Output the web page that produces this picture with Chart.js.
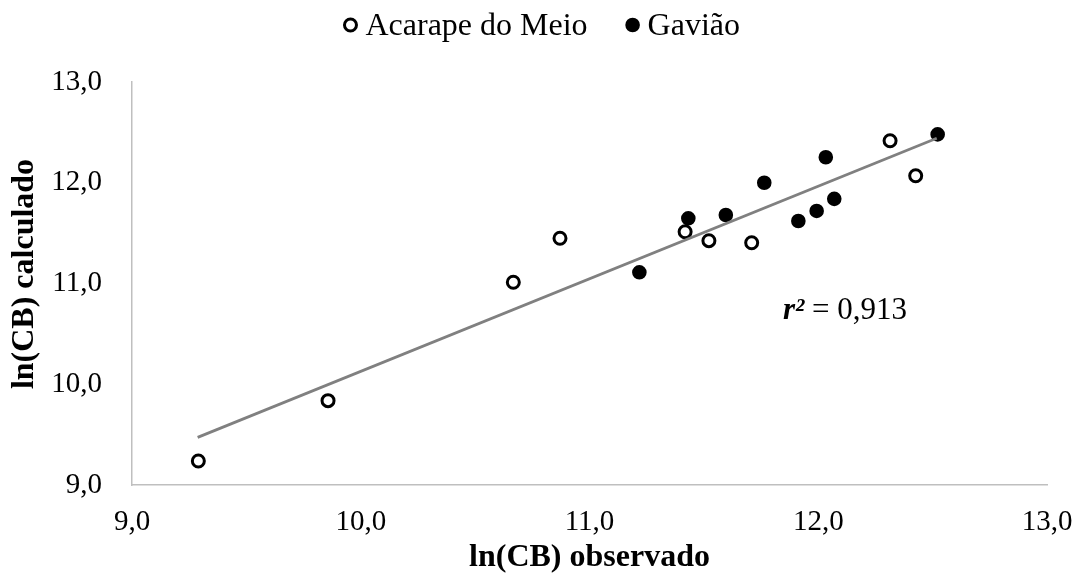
<!DOCTYPE html>
<html>
<head>
<meta charset="utf-8">
<script src="https://cdn.jsdelivr.net/npm/chart.js@4.4.1/dist/chart.umd.min.js"></script>
<style>
  html, body { margin: 0; padding: 0; background: #ffffff; }
  #wrap { width: 1083px; height: 582px; position: relative; }
</style>
</head>
<body>
<div id="wrap"><canvas id="chart"></canvas></div>
<script>
// Series names
const seriesNames = ['Acarape do Meio', 'Gavião'];

// Acarape do Meio: observed vs calculated ln(CB)
const acarapeObserved   = [9.29, 9.857, 10.667, 10.871, 11.418, 11.522, 11.709, 12.314, 12.426];
const acarapeCalculated = [9.238, 9.837, 11.012, 11.449, 11.514, 11.425, 11.405, 12.417, 12.07];

// Gavião: observed vs calculated ln(CB)
const gaviaoObserved   = [11.218, 11.432, 11.596, 11.764, 11.913, 11.993, 12.033, 12.07, 12.522];
const gaviaoCalculated = [11.111, 11.647, 11.68, 12.0, 11.62, 11.72, 12.253, 11.84, 12.48];

// Fitted line end points (observed, calculated)
const trendObserved   = [9.287, 12.518];
const trendCalculated = [9.473, 12.441];
const rSquared = 0.913;

// Axis ticks and titles
const xTickLabels = ['9,0', '10,0', '11,0', '12,0', '13,0'];
const yTickLabels = ['9,0', '10,0', '11,0', '12,0', '13,0'];
const xTitle = 'ln(CB) observado';
const yTitle = 'ln(CB) calculado';

const serif = "'Liberation Serif', 'Times New Roman', serif";
const toPoints = (xs, ys) => xs.map((v, i) => ({ x: v, y: ys[i] }));
const decimalComma = (v, digits) => v.toFixed(digits).replace('.', ',');

// Legend centred above the plot: marker + name for each series
const centredLegend = {
  id: 'centredLegend',
  afterDraw(chart, args, opts) {
    const ctx = chart.ctx;
    const items = chart.data.datasets.filter(d => !d.isTrend);
    ctx.save();
    ctx.font = opts.fontSize + 'px ' + serif;
    const widths = items.map(d => ctx.measureText(d.label).width);
    const total = widths.reduce((a, w) => a + opts.lead + w, 0) + opts.gap * (items.length - 1);
    let x = chart.width / 2 - total / 2;
    items.forEach((d, i) => {
      ctx.beginPath();
      ctx.arc(x + opts.markerOffset, opts.markerY, d.pointRadius, 0, Math.PI * 2);
      ctx.fillStyle = d.pointBackgroundColor;
      ctx.fill();
      ctx.lineWidth = d.pointBorderWidth;
      ctx.strokeStyle = d.pointBorderColor;
      ctx.stroke();
      ctx.fillStyle = '#000000';
      ctx.textBaseline = 'alphabetic';
      ctx.textAlign = 'left';
      ctx.fillText(d.label, x + opts.lead, opts.baseline);
      x += opts.lead + widths[i] + opts.gap;
    });
    ctx.restore();
  }
};

// Vertical axis title, rotated, beside the tick labels
const sideTitle = {
  id: 'sideTitle',
  afterDraw(chart, args, opts) {
    const { ctx, chartArea } = chart;
    const cy = (chartArea.top + chartArea.bottom) / 2 - opts.raise;
    ctx.save();
    ctx.translate(opts.x, cy);
    ctx.rotate(-Math.PI / 2);
    ctx.font = 'bold ' + opts.fontSize + 'px ' + serif;
    ctx.fillStyle = '#000000';
    ctx.textAlign = 'center';
    ctx.textBaseline = 'middle';
    ctx.fillText(opts.text, 0, 0);
    ctx.restore();
  }
};

// Coefficient of determination written next to the fitted line
const fitNote = {
  id: 'fitNote',
  afterDatasetsDraw(chart, args, opts) {
    const { ctx, scales } = chart;
    const right = scales.x.getPixelForValue(opts.anchor[0]);
    const base = scales.y.getPixelForValue(opts.anchor[1]);
    const head = 'r²';
    const tail = ' = ' + decimalComma(rSquared, 3);
    ctx.save();
    ctx.fillStyle = '#000000';
    ctx.textBaseline = 'alphabetic';
    ctx.textAlign = 'left';
    ctx.font = 'italic bold ' + opts.fontSize + 'px ' + serif;
    const w1 = ctx.measureText(head).width;
    ctx.font = opts.fontSize + 'px ' + serif;
    const w2 = ctx.measureText(tail).width;
    const start = right - w1 - w2;
    ctx.font = 'italic bold ' + opts.fontSize + 'px ' + serif;
    ctx.fillText(head, start, base);
    ctx.font = opts.fontSize + 'px ' + serif;
    ctx.fillText(tail, start + w1, base);
    ctx.restore();
  }
};

const axisGrey = '#bfbfbf';

new Chart(document.getElementById('chart'), {
  type: 'scatter',
  data: {
    datasets: [
      {
        label: 'Linear fit',
        isTrend: true,
        type: 'line',
        data: toPoints(trendObserved, trendCalculated),
        borderColor: '#808080',
        borderWidth: 2.8,
        pointRadius: 0,
        fill: false,
        order: 0
      },
      {
        label: seriesNames[0],
        data: toPoints(acarapeObserved, acarapeCalculated),
        pointRadius: 6,
        pointBorderWidth: 3,
        pointBackgroundColor: '#ffffff',
        pointBorderColor: '#000000',
        pointHoverRadius: 6,
        order: 1
      },
      {
        label: seriesNames[1],
        data: toPoints(gaviaoObserved, gaviaoCalculated),
        pointRadius: 6.3,
        pointBorderWidth: 2,
        pointBackgroundColor: '#000000',
        pointBorderColor: '#000000',
        pointHoverRadius: 6.3,
        order: 1
      }
    ]
  },
  options: {
    responsive: true,
    maintainAspectRatio: false,
    animation: false,
    layout: { padding: { top: 82, right: 36, bottom: 0, left: 0 } },
    plugins: {
      legend: { display: false },
      tooltip: { enabled: false },
      centredLegend: { fontSize: 32, lead: 22.5, gap: 37.5, markerOffset: 7.5, markerY: 25, baseline: 35 },
      sideTitle: { text: yTitle, fontSize: 32, x: 25, raise: 9.5 },
      fitNote: { fontSize: 31, anchor: [12.388, 10.643] }
    },
    scales: {
      x: {
        type: 'linear',
        min: 9,
        max: 13,
        afterFit: s => { s.height = 97; s.paddingLeft = 0; s.paddingRight = 0; },
        grid: { display: false, drawTicks: false },
        border: { display: true, color: axisGrey, width: 1.5 },
        ticks: {
          stepSize: 1,
          padding: 20,
          color: '#000000',
          font: { family: serif, size: 29 },
          callback: (v) => xTickLabels[Math.round(v - 9)]
        },
        title: {
          display: true,
          text: xTitle,
          color: '#000000',
          font: { family: serif, size: 32, weight: 'bold' },
          padding: { top: 0, bottom: 5 }
        }
      },
      y: {
        type: 'linear',
        min: 9,
        max: 13,
        afterFit: s => { s.width = 132; },
        grid: { display: false, drawTicks: false },
        border: { display: true, color: axisGrey, width: 1.5 },
        ticks: {
          stepSize: 1,
          padding: 30,
          color: '#000000',
          font: { family: serif, size: 29 },
          callback: (v) => yTickLabels[Math.round(v - 9)]
        }
      }
    }
  },
  plugins: [centredLegend, sideTitle, fitNote]
});
</script>
</body>
</html>
